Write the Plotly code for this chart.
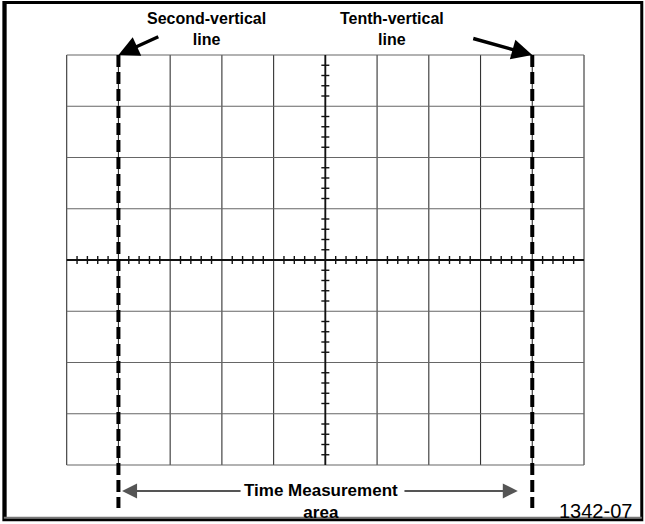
import plotly.graph_objects as go

# ---- graticule data (divisions) ----
h_divs = 10          # horizontal divisions
v_divs = 8           # vertical divisions
minor_per_div = 5    # subdivisions on the centre axes
marked_lines = [1, 9]  # second and tenth vertical lines (0-based index)
top_labels = ["Second-vertical<br>line", "Tenth-vertical<br>line"]
bottom_label = "Time Measurement<br>area"
fig_id = "1342-07"

# px per division (for range computation)
W, H = 645, 524
x0_px, x1_px = 66.7, 584.0
y_top_px, y_bot_px = 55.0, 465.0
dx = (x1_px - x0_px) / h_divs
dy = (y_bot_px - y_top_px) / v_divs
xr = [-x0_px / dx, (W - x0_px) / dx]
yr = [(y_bot_px - H) / dy, y_bot_px / dy]

fig = go.Figure()

# vertical grid lines
vx, vy = [], []
for i in range(h_divs + 1):
    vx += [i, i, None]
    vy += [0, v_divs, None]
fig.add_trace(go.Scatter(x=vx, y=vy, mode="lines", line=dict(color="#333", width=1.1),
                         hoverinfo="skip", showlegend=False))
# horizontal grid lines
hx, hy = [], []
for j in range(v_divs + 1):
    hx += [0, h_divs, None]
    hy += [j, j, None]
fig.add_trace(go.Scatter(x=hx, y=hy, mode="lines", line=dict(color="#666", width=1.1),
                         hoverinfo="skip", showlegend=False))

# centre axes thicker
cx, cy = h_divs / 2, v_divs / 2
fig.add_trace(go.Scatter(x=[cx, cx, None, 0, h_divs], y=[0, v_divs, None, cy, cy], mode="lines",
                         line=dict(color="#111", width=1.8), hoverinfo="skip", showlegend=False))

# minor ticks on centre axes
tl_x = 4.0 / dy
tl_y = 4.0 / dx
tx, ty = [], []
for k in range(h_divs * minor_per_div + 1):
    if k % minor_per_div == 0:
        continue
    xv = k / minor_per_div
    tx += [xv, xv, None]
    ty += [cy - tl_x, cy + tl_x, None]
for k in range(v_divs * minor_per_div + 1):
    if k % minor_per_div == 0:
        continue
    yv = k / minor_per_div
    tx += [cx - tl_y, cx + tl_y, None]
    ty += [yv, yv, None]
fig.add_trace(go.Scatter(x=tx, y=ty, mode="lines", line=dict(color="#111", width=1.4),
                         hoverinfo="skip", showlegend=False))

# dashed marker lines
for m in marked_lines:
    fig.add_trace(go.Scatter(x=[m, m], y=[v_divs, (y_bot_px - 508) / dy], mode="lines",
                             line=dict(color="#000", width=4, dash="12px,5px"),
                             hoverinfo="skip", showlegend=False))

font_top = dict(family="Liberation Sans, Arial", size=16, color="#000")
font_bot = dict(family="Liberation Sans, Arial", size=17, color="#000")
ann = []
# top labels
for m, lab, tx_c, tail in zip(marked_lines, top_labels, [2.71, 6.29], [(1.80, 8.37), (7.83, 8.33)]):
    ann.append(dict(x=tx_c, y=8.50, xref="x", yref="y", text="<b>" + lab + "</b>", showarrow=False,
                    font=font_top, align="center"))
    ann.append(dict(x=m, y=v_divs, ax=tail[0], ay=tail[1], xref="x", yref="y", axref="x", ayref="y",
                    text="", showarrow=True, arrowhead=2, arrowsize=1.2, arrowwidth=3.4,
                    arrowcolor="#000", standoff=0))
# bottom label
ann.append(dict(x=4.92, y=-0.71, xref="x", yref="y", text="<b>" + bottom_label + "</b>", showarrow=False,
                font=font_bot, align="center"))
ann.append(dict(x=1.07, y=-0.507, ax=3.39, ay=-0.507, xref="x", yref="y", axref="x", ayref="y",
                text="", showarrow=True, arrowhead=2, arrowsize=1.5, arrowwidth=2,
                arrowcolor="#555", standoff=0))
ann.append(dict(x=8.72, y=-0.507, ax=6.50, ay=-0.507, xref="x", yref="y", axref="x", ayref="y",
                text="", showarrow=True, arrowhead=2, arrowsize=1.5, arrowwidth=2,
                arrowcolor="#555", standoff=0))
ann.append(dict(x=10.23, y=-0.89, xref="x", yref="y", text=fig_id, showarrow=False,
                font=dict(family="Liberation Sans, Arial", size=20, color="#000")))

shapes = [
    dict(type="rect", xref="paper", yref="paper", x0=0.006, x1=0.995, y0=0.008, y1=0.995,
         line=dict(color="#000", width=3)),
    dict(type="line", xref="paper", yref="paper", x0=0.008, x1=0.008, y0=0.008, y1=0.995,
         line=dict(color="#000", width=3)),
    dict(type="line", xref="paper", yref="paper", x0=0.006, x1=0.995, y0=0.012, y1=0.012,
         line=dict(color="#777", width=2)),
]

fig.update_layout(
    width=W, height=H, margin=dict(l=0, r=0, t=0, b=0),
    paper_bgcolor="white", plot_bgcolor="white",
    xaxis=dict(range=xr, visible=False, showgrid=False, zeroline=False, fixedrange=True),
    yaxis=dict(range=yr, visible=False, showgrid=False, zeroline=False, fixedrange=True),
    annotations=ann, shapes=shapes, showlegend=False,
)
fig.write_html("out.html", config={"displayModeBar": False},
               post_script="document.body.style.margin='0';document.body.style.overflow='hidden';")
